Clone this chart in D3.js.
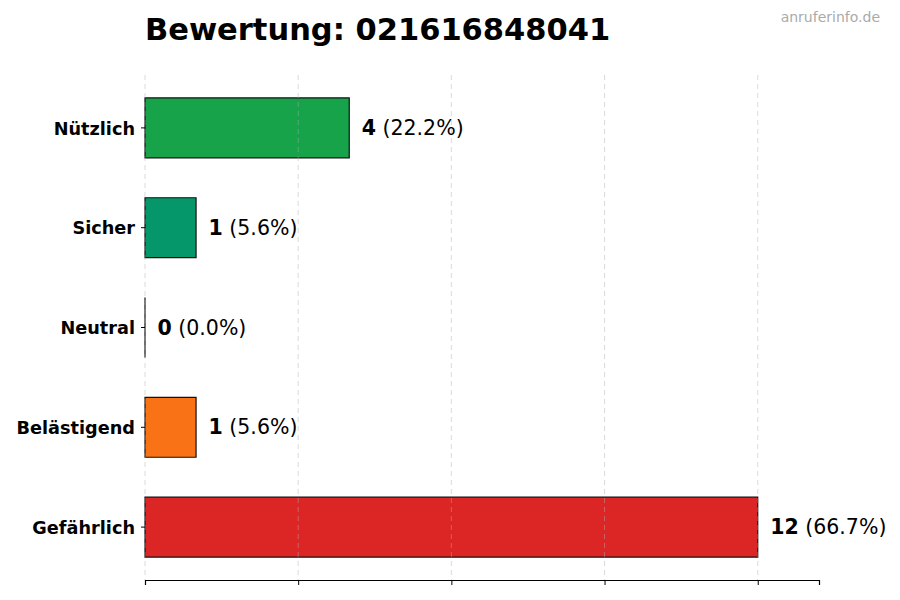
<!DOCTYPE html>
<html>
<head>
<meta charset="utf-8">
<script src="https://cdn.jsdelivr.net/npm/d3@7"></script>
<style>
  body { margin: 0; background: #fff; }
  svg { font-family: "DejaVu Sans", sans-serif; }
</style>
</head>
<body>
<div id="chart"></div>
<script>
// chart data
const categories = ["Nützlich", "Sicher", "Neutral", "Belästigend", "Gefährlich"];
const counts = [4, 1, 0, 1, 12];
const percents = ["22.2%", "5.6%", "0.0%", "5.6%", "66.7%"];
const colors = ["#16a34a", "#059669", "#9ca3af", "#f97316", "#dc2626"];
const xTicks = [0, 3, 6, 9, 12];

const width = 900;
const height = 600;
const margin = { top: 75, right: 81, bottom: 20, left: 145 };

const data = categories.map((c, i) => ({ cat: c, value: counts[i], pct: percents[i], color: colors[i] }));

const svg = d3.select("#chart")
  .append("svg")
  .attr("width", width)
  .attr("height", height);

const x = d3.scaleLinear()
  .domain([0, d3.max(counts) * 1.1])
  .range([margin.left, width - margin.right]);

const y = d3.scaleBand()
  .domain(categories)
  .range([margin.top, height - margin.bottom])
  .paddingInner(0.4)
  .paddingOuter(0.23);

// bars as paths so a zero value still shows its edge
svg.selectAll("path.bar")
  .data(data)
  .enter()
  .append("path")
  .attr("class", "bar")
  .attr("d", (d) => {
    const p = d3.path();
    p.rect(x(0), y(d.cat), x(d.value) - x(0), y.bandwidth());
    return p.toString();
  })
  .attr("fill", (d) => d.color)
  .attr("stroke", "#111")
  .attr("stroke-width", 1.2);

// grid lines on top, light and dashed
svg.selectAll("line.grid")
  .data(xTicks)
  .enter()
  .append("line")
  .attr("class", "grid")
  .attr("x1", (d) => x(d))
  .attr("x2", (d) => x(d))
  .attr("y1", margin.top)
  .attr("y2", height - margin.bottom)
  .attr("stroke", "#b0b0b0")
  .attr("stroke-opacity", 0.45)
  .attr("stroke-dasharray", "5,4");

// bottom axis, ticks only
const xAxis = svg.append("g")
  .attr("transform", `translate(0,${height - margin.bottom})`)
  .call(d3.axisBottom(x).tickValues(xTicks).tickFormat("").tickSizeOuter(0).tickSize(5));
xAxis.select(".domain").attr("stroke", "#000").attr("stroke-width", 1.2);
xAxis.selectAll(".tick line").attr("stroke", "#000");

// left axis, labels + ticks, no spine
const yAxis = svg.append("g")
  .attr("transform", `translate(${margin.left},0)`)
  .call(d3.axisLeft(y).tickSize(4).tickPadding(6));
yAxis.select(".domain").remove();
yAxis.selectAll(".tick line").attr("stroke", "#000");
yAxis.selectAll(".tick text")
  .attr("font-family", "DejaVu Sans")
  .attr("font-size", 17.7)
  .attr("font-weight", "bold")
  .attr("dy", "0.38em")
  .attr("fill", "#000");

// value labels
const labels = svg.selectAll("text.val")
  .data(data)
  .enter()
  .append("text")
  .attr("class", "val")
  .attr("x", (d) => x(d.value) + 12.5)
  .attr("y", (d) => y(d.cat) + y.bandwidth() / 2)
  .attr("dy", "0.35em")
  .attr("font-size", 20.5)
  .attr("fill", "#000");
labels.append("tspan").attr("font-weight", "bold").text((d) => d.value);
labels.append("tspan").text((d) => ` (${d.pct})`);

// title
svg.append("text")
  .attr("x", margin.left)
  .attr("y", 40)
  .attr("font-size", 30.5)
  .attr("font-weight", "bold")
  .attr("fill", "#000")
  .text("Bewertung: 021616848041");

// watermark
svg.append("text")
  .attr("x", 880)
  .attr("y", 22)
  .attr("text-anchor", "end")
  .attr("font-size", 14)
  .attr("fill", "#aaa")
  .text("anruferinfo.de");
</script>
</body>
</html>
